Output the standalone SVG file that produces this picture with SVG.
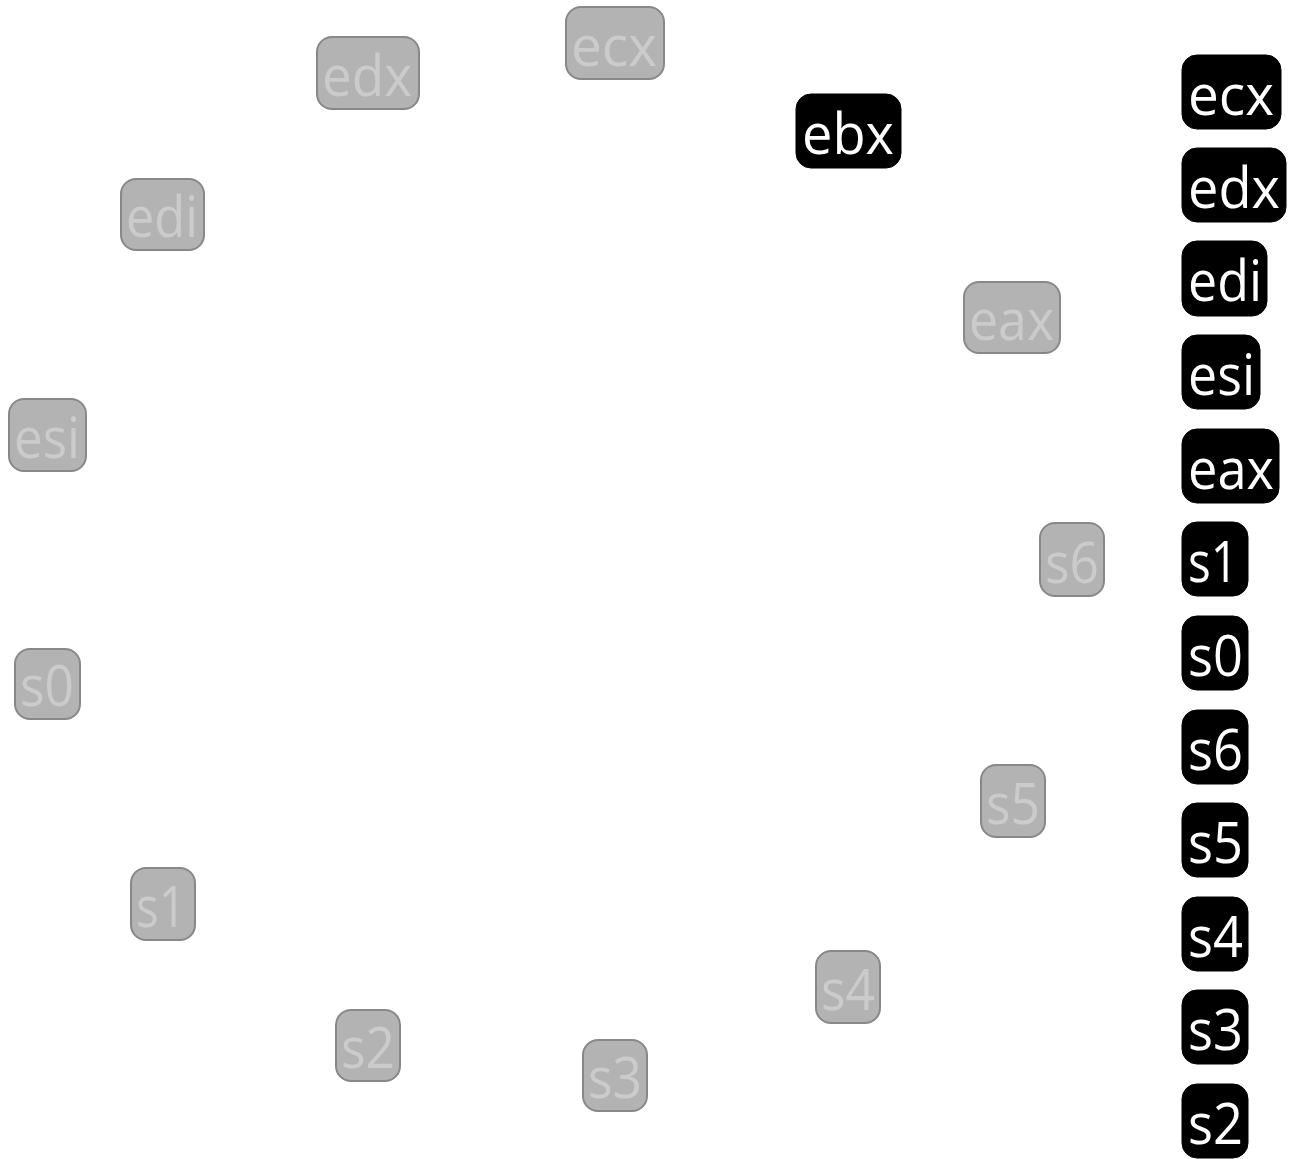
<svg xmlns="http://www.w3.org/2000/svg" width="1289" height="1159" viewBox="0 0 1289 1159">
<style>
.g rect{fill:#b3b3b3;stroke:#888888;stroke-width:2}
.g text{fill:#cbcbcb}
.b rect{fill:#000000;stroke:#000000;stroke-width:1}
.b text{fill:#ffffff}
text{font-family:"Open Sans","DejaVu Sans",sans-serif;font-size:56px}
</style>
<rect width="1289" height="1159" fill="#ffffff"/>
<g id="connectors"/>
<g id="n-ecx-g" class="g"><rect x="566" y="7" width="98" height="72" rx="15"/><text x="571" y="66" textLength="86" lengthAdjust="spacingAndGlyphs">ecx</text></g>
<g id="n-edx-g" class="g"><rect x="317" y="37" width="102" height="72" rx="15"/><text x="322" y="96" textLength="90" lengthAdjust="spacingAndGlyphs">edx</text></g>
<g id="n-edi-g" class="g"><rect x="121" y="179" width="83" height="71" rx="15"/><text x="126" y="237" textLength="72" lengthAdjust="spacingAndGlyphs">edi</text></g>
<g id="n-eax-g" class="g"><rect x="964" y="282" width="96" height="71" rx="15"/><text x="969" y="340" textLength="85" lengthAdjust="spacingAndGlyphs">eax</text></g>
<g id="n-esi-g" class="g"><rect x="9" y="399" width="77" height="72" rx="15"/><text x="14" y="458" textLength="66" lengthAdjust="spacingAndGlyphs">esi</text></g>
<g id="n-s6-g" class="g"><rect x="1040" y="523" width="64" height="73" rx="15"/><text x="1045" y="583" textLength="54" lengthAdjust="spacingAndGlyphs">s6</text></g>
<g id="n-s0-g" class="g"><rect x="15" y="649" width="65" height="70" rx="15"/><text x="20" y="706" textLength="54" lengthAdjust="spacingAndGlyphs">s0</text></g>
<g id="n-s5-g" class="g"><rect x="981" y="765" width="64" height="72" rx="15"/><text x="986" y="824" textLength="54" lengthAdjust="spacingAndGlyphs">s5</text></g>
<g id="n-s1-g" class="g"><rect x="131" y="868" width="64" height="72" rx="15"/><text x="136" y="927" textLength="50" lengthAdjust="spacingAndGlyphs">s1</text></g>
<g id="n-s4-g" class="g"><rect x="816" y="951" width="64" height="72" rx="15"/><text x="821" y="1010" textLength="54" lengthAdjust="spacingAndGlyphs">s4</text></g>
<g id="n-s2-g" class="g"><rect x="336" y="1010" width="64" height="71" rx="15"/><text x="341" y="1068" textLength="54" lengthAdjust="spacingAndGlyphs">s2</text></g>
<g id="n-s3-g" class="g"><rect x="583" y="1040" width="64" height="71" rx="15"/><text x="588" y="1098" textLength="54" lengthAdjust="spacingAndGlyphs">s3</text></g>
<g id="n-ebx" class="b"><rect x="796" y="94" width="105" height="74" rx="15"/><text x="802" y="154" textLength="92" lengthAdjust="spacingAndGlyphs">ebx</text></g>
<g id="r-ecx" class="b"><rect x="1182" y="55" width="99" height="74" rx="15"/><text x="1188" y="115" textLength="86" lengthAdjust="spacingAndGlyphs">ecx</text></g>
<g id="r-edx" class="b"><rect x="1182" y="148" width="104" height="74" rx="15"/><text x="1188" y="208" textLength="92" lengthAdjust="spacingAndGlyphs">edx</text></g>
<g id="r-edi" class="b"><rect x="1182" y="241" width="85" height="75" rx="15"/><text x="1188" y="301" textLength="74" lengthAdjust="spacingAndGlyphs">edi</text></g>
<g id="r-esi" class="b"><rect x="1182" y="335" width="78" height="74" rx="15"/><text x="1188" y="395" textLength="67" lengthAdjust="spacingAndGlyphs">esi</text></g>
<g id="r-eax" class="b"><rect x="1182" y="429" width="97" height="74" rx="15"/><text x="1188" y="489" textLength="86" lengthAdjust="spacingAndGlyphs">eax</text></g>
<g id="r-s1" class="b"><rect x="1182" y="522" width="66" height="74" rx="15"/><text x="1188" y="582" textLength="50" lengthAdjust="spacingAndGlyphs">s1</text></g>
<g id="r-s0" class="b"><rect x="1182" y="616" width="66" height="74" rx="15"/><text x="1188" y="676" textLength="55" lengthAdjust="spacingAndGlyphs">s0</text></g>
<g id="r-s6" class="b"><rect x="1182" y="710" width="66" height="74" rx="15"/><text x="1188" y="770" textLength="55" lengthAdjust="spacingAndGlyphs">s6</text></g>
<g id="r-s5" class="b"><rect x="1182" y="803" width="66" height="74" rx="15"/><text x="1188" y="863" textLength="55" lengthAdjust="spacingAndGlyphs">s5</text></g>
<g id="r-s4" class="b"><rect x="1182" y="897" width="66" height="74" rx="15"/><text x="1188" y="957" textLength="55" lengthAdjust="spacingAndGlyphs">s4</text></g>
<g id="r-s3" class="b"><rect x="1182" y="990" width="66" height="74" rx="15"/><text x="1188" y="1050" textLength="55" lengthAdjust="spacingAndGlyphs">s3</text></g>
<g id="r-s2" class="b"><rect x="1182" y="1084" width="66" height="74" rx="15"/><text x="1188" y="1144" textLength="55" lengthAdjust="spacingAndGlyphs">s2</text></g>
</svg>
